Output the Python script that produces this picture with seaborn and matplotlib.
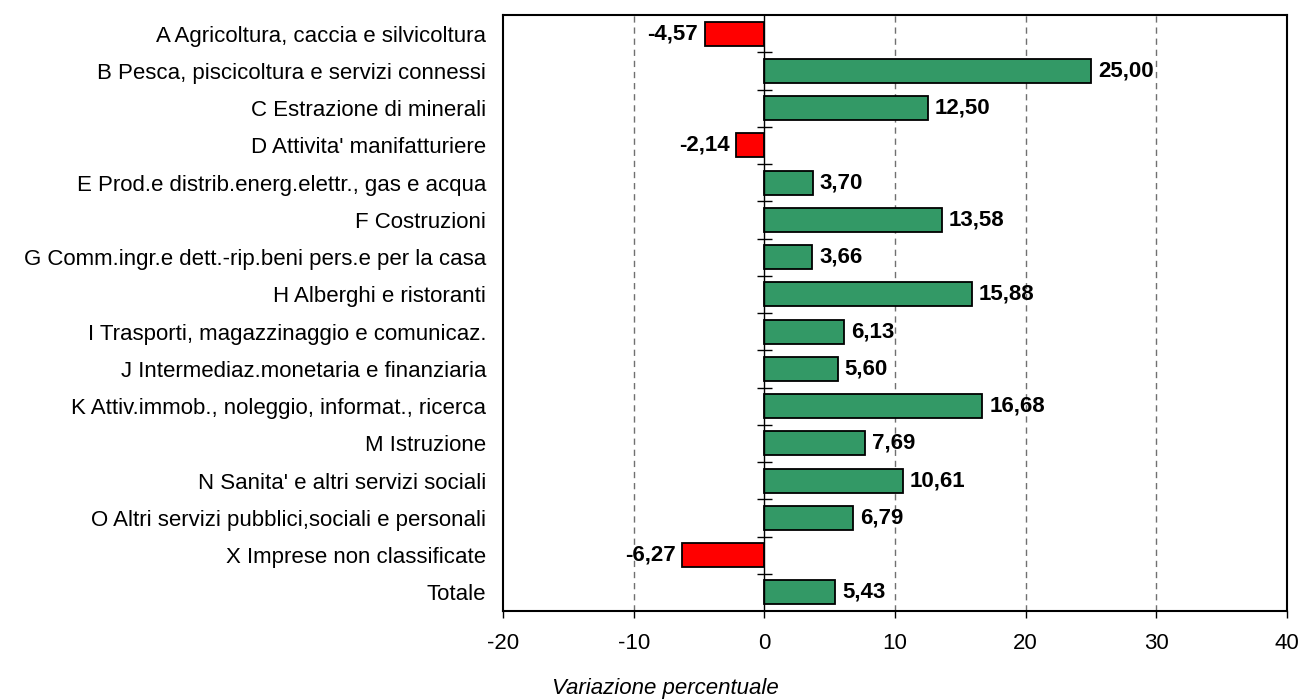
import matplotlib
matplotlib.use("Agg")
import matplotlib.pyplot as plt
import seaborn as sns
import numpy as np

categories = [
    "A Agricoltura, caccia e silvicoltura",
    "B Pesca, piscicoltura e servizi connessi",
    "C Estrazione di minerali",
    "D Attivita' manifatturiere",
    "E Prod.e distrib.energ.elettr., gas e acqua",
    "F Costruzioni",
    "G Comm.ingr.e dett.-rip.beni pers.e per la casa",
    "H Alberghi e ristoranti",
    "I Trasporti, magazzinaggio e comunicaz.",
    "J Intermediaz.monetaria e finanziaria",
    "K Attiv.immob., noleggio, informat., ricerca",
    "M Istruzione",
    "N Sanita' e altri servizi sociali",
    "O Altri servizi pubblici,sociali e personali",
    "X Imprese non classificate",
    "Totale",
]
values = [-4.57, 25.00, 12.50, -2.14, 3.70, 13.58, 3.66, 15.88,
          6.13, 5.60, 16.68, 7.69, 10.61, 6.79, -6.27, 5.43]
x_ticks = [-20, -10, 0, 10, 20, 30, 40]
x_label = "Variazione percentuale"

sns.set_style("white")
plt.rcParams["font.family"] = ["Liberation Sans", "DejaVu Sans"]
plt.rcParams["text.color"] = "black"
plt.rcParams["xtick.color"] = "black"
plt.rcParams["ytick.color"] = "black"
plt.rcParams["axes.labelcolor"] = "black"

sign = ["neg" if v < 0 else "pos" for v in values]
palette = {"pos": "#339966", "neg": "#FF0000"}

fig = plt.figure(figsize=(13, 7), dpi=100)
ax = fig.add_axes([503/1300, 1 - 611/700, (1287-503)/1300, (611-15)/700])

sns.barplot(x=values, y=categories, hue=sign, palette=palette, dodge=False,
            legend=False, edgecolor="black", linewidth=1.3, width=0.65,
            saturation=1, orient="h", ax=ax, zorder=3)

ax.set_xlim(x_ticks[0], x_ticks[-1])
ax.set_ylim(len(categories) - 0.5, -0.5)
ax.set_xticks(x_ticks)
ax.set_xticklabels([str(t) for t in x_ticks], fontsize=16)
ax.tick_params(axis="x", direction="out", length=5, width=1, color="black", pad=11, bottom=True)
ax.tick_params(axis="y", length=0, pad=12, labelsize=16)

# dashed vertical gridlines
for t in x_ticks[1:-1]:
    if t != 0:
        ax.axvline(t, color="#707070", linestyle=(0, (4.5, 3.5)), linewidth=1.0, zorder=1)

# category axis at zero with ticks between categories
ax.axvline(0, color="black", linewidth=1.0, zorder=4)
bounds = np.arange(len(categories) - 1) + 0.5
ax.hlines(bounds, -0.55, 0.55, color="black", linewidth=1.0, zorder=4)

for s in ax.spines.values():
    s.set_visible(True)
    s.set_color("black")
    s.set_linewidth(1.5)

ax.set_ylabel("")
ax.set_xlabel(x_label, fontsize=16, style="italic")
ax.xaxis.set_label_coords((665-503)/784, -0.113)

fmt = lambda v: f"{v:.2f}".replace(".", ",")
for c in ax.containers:
    ax.bar_label(c, fmt=fmt, padding=5, fontsize=16, fontweight="bold", zorder=5)

fig.savefig("out.png", dpi=100)
